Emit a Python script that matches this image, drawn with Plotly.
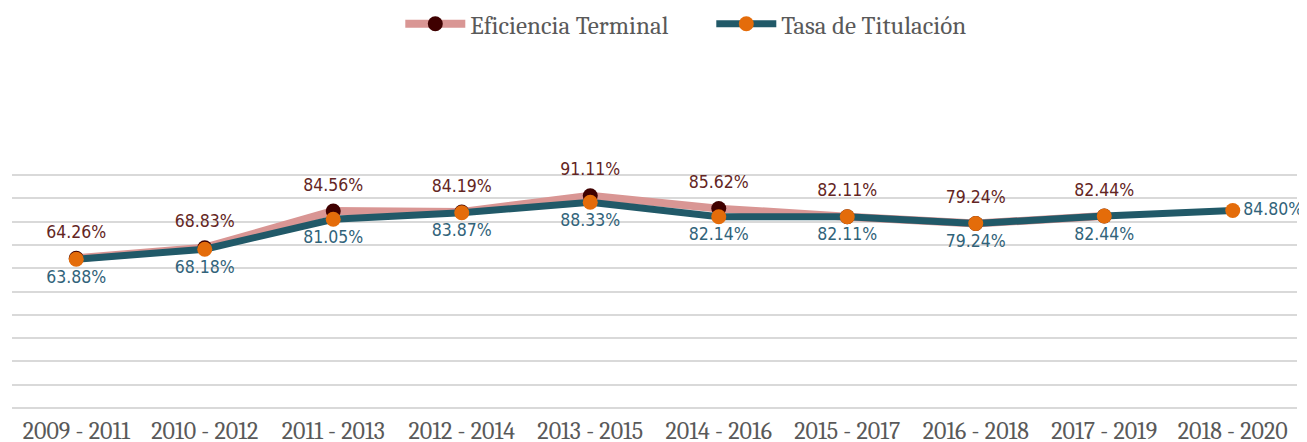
import plotly.graph_objects as go

categories = ["2009 - 2011", "2010 - 2012", "2011 - 2013", "2012 - 2014", "2013 - 2015",
              "2014 - 2016", "2015 - 2017", "2016 - 2018", "2017 - 2019", "2018 - 2020"]
eficiencia = [0.6426, 0.6883, 0.8456, 0.8419, 0.9111, 0.8562, 0.8211, 0.7924, 0.8244]
titulacion = [0.6388, 0.6818, 0.8105, 0.8387, 0.8833, 0.8214, 0.8211, 0.7924, 0.8244, 0.8480]

label_font = "DejaVu Sans Condensed, Liberation Sans Narrow, Arial Narrow, sans-serif"
serif_font = "Cambria, Caladea, Liberation Serif, serif"

tit_pos = ["bottom center"] * (len(titulacion) - 1) + ["middle right"]
ef_x = categories[:len(eficiencia)]

fig = go.Figure()
fig.add_trace(go.Scatter(
    x=ef_x, y=eficiencia, name="Eficiencia Terminal",
    mode="lines+markers",
    line=dict(color="#D99694", width=8),
    marker=dict(color="#3F0000", size=15),
))
# labels for Eficiencia Terminal (a bit further above the points, as in the reference)
fig.add_trace(go.Scatter(
    x=ef_x, y=eficiencia, showlegend=False, hoverinfo="skip",
    mode="markers+text",
    marker=dict(size=24, opacity=0),
    text=[f"{v*100:.2f}%" for v in eficiencia],
    textposition="top center",
    textfont=dict(family=label_font, size=17.5, color="#632523"),
    cliponaxis=False,
))
fig.add_trace(go.Scatter(
    x=categories, y=titulacion, name="Tasa de Titulación",
    mode="lines+markers+text",
    line=dict(color="#215968", width=7),
    marker=dict(color="#E46C0A", size=15),
    text=[f"{v*100:.2f}%" for v in titulacion],
    textposition=tit_pos,
    textfont=dict(family=label_font, size=17.5, color="#31637A"),
    cliponaxis=False,
))

# page body has an 8px margin: size the figure so the plot lands where the reference has it
fig.update_layout(
    width=1299, height=434,
    margin=dict(l=4, r=10, t=158.8, b=27.9),
    paper_bgcolor="white", plot_bgcolor="white",
    showlegend=True,
    legend=dict(orientation="h", xref="container", x=0.302, xanchor="left",
                yref="container", y=0.963, yanchor="middle",
                font=dict(family=serif_font, size=25, color="#595959"),
                entrywidth=236, entrywidthmode="pixels",
                itemwidth=60),
    xaxis=dict(type="category", range=[-0.5, 9.5], showgrid=False, showline=False,
               ticks="", automargin=False,
               tickfont=dict(family=serif_font, size=24, color="#595959")),
    yaxis=dict(range=[-0.026, 1.035], tick0=0, dtick=0.1, showticklabels=False,
               automargin=False,
               gridcolor="#D9D9D9", gridwidth=2, zeroline=False, showline=False),
)

fig.write_html("out.html")
